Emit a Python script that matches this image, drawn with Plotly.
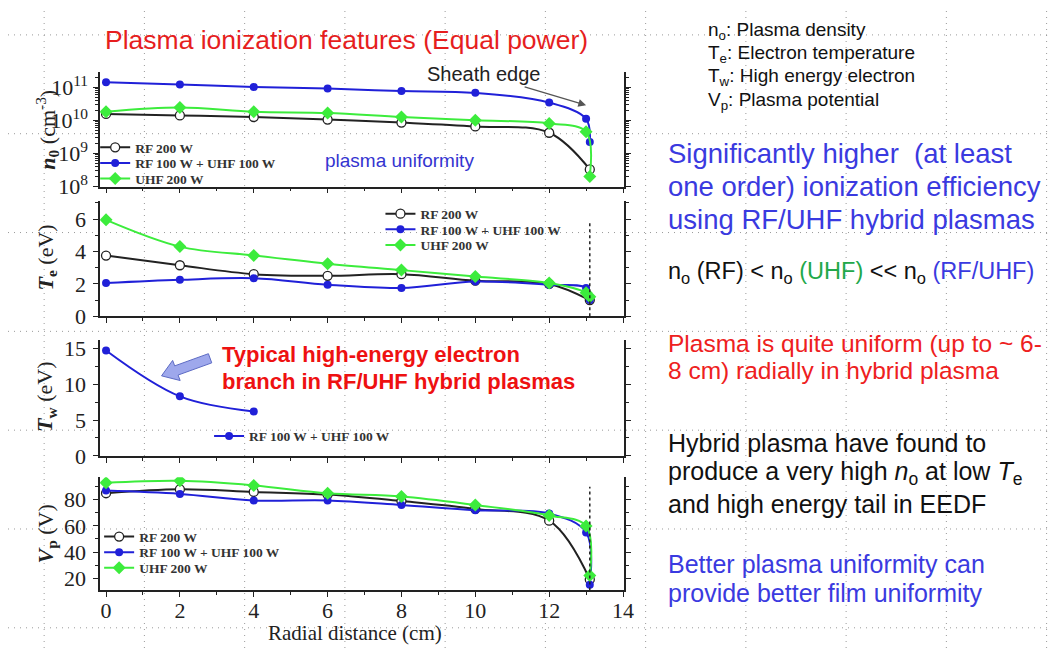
import plotly.graph_objects as go

# ---------------- data ----------------
x_rf = [0, 2, 4, 6, 8, 10, 12, 13.1]
x_hy = [0, 2, 4, 6, 8, 10, 12, 13, 13.1]
x_uhf = [0, 2, 4, 6, 8, 10, 12, 13, 13.1]
x_tw = [0, 2, 4]

n0_rf = [1.55e10, 1.4e10, 1.25e10, 1.05e10, 8.5e9, 6.5e9, 4.2e9, 3.3e8]
n0_hy = [1.4e11, 1.2e11, 1.0e11, 9.0e10, 7.6e10, 6.7e10, 3.4e10, 1.1e10, 2.2e9]
n0_uhf = [1.8e10, 2.4e10, 1.8e10, 1.65e10, 1.25e10, 1.0e10, 8.0e9, 4.5e9, 2.0e8]

te_rf = [3.75, 3.15, 2.6, 2.5, 2.6, 2.2, 2.0, 1.0]
te_hy = [2.05, 2.25, 2.35, 1.95, 1.75, 2.15, 1.95, 1.75, 1.0]
te_uhf = [5.95, 4.3, 3.75, 3.25, 2.85, 2.45, 2.05, 1.45, 1.2]

tw_hy = [14.7, 8.3, 6.2]

vp_rf = [85, 88, 86, 84, 79, 73, 64, 19]
vp_hy = [87, 84.5, 79.5, 79.5, 76, 72, 69.5, 55, 15]
vp_uhf = [93, 94.5, 91, 85, 82.5, 76, 68, 60, 22]

names = ["RF 200 W", "RF 100 W + UHF 100 W", "UHF 200 W"]
sheath_x = 13.1
x_ticks = [0, 2, 4, 6, 8, 10, 12, 14]
n0_tickvals = [1e8, 1e9, 1e10, 1e11]
n0_ticktext = ["10<sup>8</sup>", "10<sup>9</sup>", "10<sup>10</sup>", "10<sup>11</sup>"]

# ---------------- styling ----------------
W, H = 1060, 653
BLACK = "#222222"
BLUE = "#2020d8"
GREEN = "#3cec3c"
SERIF = "Liberation Serif"
SANS = "Liberation Sans"

def px(x):
    return x / W

def py(y):
    return 1 - y / H

fig = go.Figure()

STYLES = [
    dict(line=dict(color=BLACK, width=2, shape="spline"),
         marker=dict(symbol="circle", size=9, color="white", line=dict(color=BLACK, width=1.3))),
    dict(line=dict(color=BLUE, width=2, shape="spline"),
         marker=dict(symbol="circle", size=8, color=BLUE)),
    dict(line=dict(color=GREEN, width=2, shape="spline"),
         marker=dict(symbol="diamond", size=10, color=GREEN)),
]

# legend placement per panel: (left x px, [row center y px for each series])
LEG_POS = {
    1: (88, [140, 156, 172]),
    2: (376, [208, 224, 240]),
    3: (203, [None, 436, None]),
    4: (92, [539, 555, 571]),
}

leg_layout = {}
leg_counter = [0]

def add_set(xs, ys, axn):
    xa = "x" if axn == 1 else f"x{axn}"
    ya = "y" if axn == 1 else f"y{axn}"
    lx, rows = LEG_POS[axn]
    for i, (xx, yy) in enumerate(zip(xs, ys)):
        if xx is None:
            continue
        leg_counter[0] += 1
        n = leg_counter[0]
        lg = "legend" if n == 1 else f"legend{n}"
        fig.add_trace(go.Scatter(x=xx, y=yy, mode="lines+markers", name=f"<b>{names[i]}</b>",
                                 xaxis=xa, yaxis=ya, legend=lg, showlegend=True, **STYLES[i]))
        leg_layout[lg] = dict(bgcolor="rgba(0,0,0,0)", borderwidth=0, visible=True,
                              font=dict(family=SERIF, size=13.5, color="#333"),
                              xanchor="left", yanchor="middle", x=px(lx), y=py(rows[i]),
                              itemwidth=30, tracegroupgap=0)

add_set([x_rf, x_hy, x_uhf], [n0_rf, n0_hy, n0_uhf], 1)
add_set([x_rf, x_hy, x_uhf], [te_rf, te_hy, te_uhf], 2)
add_set([None, x_tw, None], [None, tw_hy, None], 3)
add_set([x_rf, x_hy, x_uhf], [vp_rf, vp_hy, vp_uhf], 4)

# ---------------- axes ----------------
xdom = [px(93), px(622)]
panels = {1: (63, 180), 2: (195, 313), 3: (337, 456), 4: (478, 594)}
yranges = {1: [8, 11.44], 2: [0, 7.1], 3: [0, 16.2], 4: [10.6, 97.2]}

axis_common = dict(showline=True, linecolor=BLACK, linewidth=1.5, ticks="outside",
                   ticklen=5, tickwidth=1.3, tickcolor=BLACK, showgrid=False, zeroline=False,
                   tickfont=dict(family=SERIF, size=22, color=BLACK))

layout = dict(width=W, height=H, margin=dict(l=0, r=0, t=0, b=0), showlegend=True,
              paper_bgcolor="white", plot_bgcolor="rgba(0,0,0,0)",
              font=dict(family=SERIF, color=BLACK))

for k in range(1, 5):
    xk = "xaxis" if k == 1 else f"xaxis{k}"
    yk = "yaxis" if k == 1 else f"yaxis{k}"
    top, bot = panels[k]
    layout[xk] = dict(axis_common, domain=xdom, range=[-0.16, 14.03],
                      anchor="y" if k == 1 else f"y{k}",
                      tickvals=x_ticks, showticklabels=(k == 4),
                      minor=dict(ticks="outside", dtick=1, ticklen=3, tickcolor=BLACK))
    if k == 4:
        layout[xk]["ticklabelstandoff"] = -6
    ycfg = dict(axis_common, domain=[py(bot), py(top)], range=yranges[k],
                anchor="x" if k == 1 else f"x{k}", mirror="ticks", ticklabelstandoff=3)
    if k == 1:
        ycfg.update(type="log", tickvals=n0_tickvals, ticktext=n0_ticktext, ticklabelstandoff=1,
                    minor=dict(ticks="outside", ticklen=3, tickcolor=BLACK, dtick="D1"))
    elif k == 2:
        ycfg.update(tickvals=[0, 2, 4, 6], minor=dict(ticks="outside", dtick=1, ticklen=3, tickcolor=BLACK))
    elif k == 3:
        ycfg.update(tickvals=[0, 5, 10, 15], minor=dict(ticks="outside", dtick=2.5, ticklen=3, tickcolor=BLACK))
    else:
        ycfg.update(tickvals=[20, 40, 60, 80], minor=dict(ticks="outside", dtick=10, ticklen=3, tickcolor=BLACK))
    layout[yk] = ycfg

layout.update(leg_layout)
fig.update_layout(**layout)

# ---------------- background dotted grid ----------------
shapes = []
for k in range(11):
    xg = 36.5 + 101.2 * k
    shapes.append(dict(type="line", xref="paper", yref="paper", x0=px(xg), x1=px(xg), y0=0, y1=1,
                       line=dict(color="#9a9a9a", width=1, dash="1px,5px"), layer="below"))
for k in range(7):
    yg = 24.5 + 101.3 * k
    shapes.append(dict(type="line", xref="paper", yref="paper", x0=0, x1=1, y0=py(yg), y1=py(yg),
                       line=dict(color="#9a9a9a", width=1, dash="1px,5px"), layer="below"))

# sheath edge dotted lines
shapes.append(dict(type="line", xref="x", yref="y", x0=sheath_x, x1=sheath_x, y0=8, y1=10.1,
                   line=dict(color=BLACK, width=1.5, dash="dot")))
shapes.append(dict(type="line", xref="x2", yref="y2", x0=sheath_x, x1=sheath_x, y0=0, y1=5.8,
                   line=dict(color=BLACK, width=1.5, dash="dot")))
shapes.append(dict(type="line", xref="x4", yref="y4", x0=sheath_x, x1=sheath_x, y0=10.6, y1=90,
                   line=dict(color=BLACK, width=1.5, dash="dot")))

# block arrow in Tw panel
arrow_pts = [(205.7, 360.7), (171.7, 373.2), (173.8, 378.8), (155, 374),
             (166.2, 358.2), (168.3, 363.8), (202.3, 351.3)]
path = "M " + " L ".join(f"{px(a):.5f},{py(b):.5f}" for a, b in arrow_pts) + " Z"
shapes.append(dict(type="path", xref="paper", yref="paper", path=path,
                   fillcolor="#9ea8ec", line=dict(color="#5c6ac4", width=1)))
fig.update_layout(shapes=shapes)

# ---------------- annotations ----------------
ann = []

def text(x, y, t, size, color, family=SANS, xanchor="left", **kw):
    ann.append(dict(x=px(x), y=py(y), xref="paper", yref="paper", text=t, showarrow=False,
                    xanchor=xanchor, yanchor="middle", font=dict(family=family, size=size, color=color), **kw))

text(342, 30, "Plasma ionization features (Equal power)", 26.5, "#e61e1e", xanchor="center")

# y-axis titles
text(39, 122, "<b><i>n</i><sub>0</sub></b> (cm<sup>-3</sup>)", 22, BLACK, family=SERIF, xanchor="center", textangle=-90)
text(39, 253, "<b><i>T</i><sub>e</sub></b> (eV)", 22, BLACK, family=SERIF, xanchor="center", textangle=-90)
text(39, 396, "<b><i>T</i><sub>w</sub></b> (eV)", 22, BLACK, family=SERIF, xanchor="center", textangle=-90)
text(39, 536, "<b><i>V</i><sub>p</sub></b> (V)", 22, BLACK, family=SERIF, xanchor="center", textangle=-90)
text(350, 638, "Radial distance (cm)", 21, BLACK, family=SERIF, xanchor="center")

text(395, 153, "plasma uniformity", 19, "#3434d0", xanchor="center")

text(214, 352, "<b>Typical high-energy electron</b>", 22, "#ee1111")
text(214, 380, "<b>branch in RF/UHF hybrid plasmas</b>", 22, "#ee1111")

# Sheath edge annotation with arrow
ann.append(dict(x=13.0, y=10.45, xref="x", yref="y", text="Sheath edge", showarrow=True,
                arrowhead=2, arrowsize=1.2, arrowwidth=1.3, arrowcolor="#555", ax=-103, ay=-31,
                font=dict(family=SANS, size=20, color=BLACK)))

# right side text
text(705, 20, "n<sub>o</sub>: Plasma density", 19, "#111")
text(705, 44, "T<sub>e</sub>: Electron temperature", 19, "#111")
text(705, 68, "T<sub>w</sub>: High energy electron", 19, "#111")
text(705, 92, "V<sub>p</sub>: Plasma potential", 19, "#111")

BL2 = "#3a3ae0"
text(664, 146, "Significantly higher  (at least", 27.5, BL2)
text(664, 180, "one order) ionization efficiency", 27.5, BL2)
text(664, 214, "using RF/UHF hybrid plasmas", 27.5, BL2)

text(664, 268, "n<sub>o</sub> (RF) &lt; n<sub>o</sub> <span style='color:#22a84a'>(UHF)</span> &lt;&lt; n<sub>o</sub> "
     "<span style='color:#3a3ae0'>(RF/UHF)</span>", 23.5, "#111")

text(664, 341, "Plasma is quite uniform (up to ~ 6-", 24.5, "#ee2020")
text(664, 369, "8 cm) radially in hybrid plasma", 24.5, "#ee2020")

text(664, 443, "Hybrid plasma have found to", 25, "#111")
text(664, 474, "produce a very high <i>n</i><sub>o</sub> at low <i>T</i><sub>e</sub>", 25, "#111")
text(664, 505, "and high energy tail in EEDF", 25, "#111")

text(664, 567, "Better plasma uniformity can", 25, BL2)
text(664, 597, "provide better film uniformity", 25, BL2)

fig.update_layout(annotations=ann)

fig.write_html("out.html")
